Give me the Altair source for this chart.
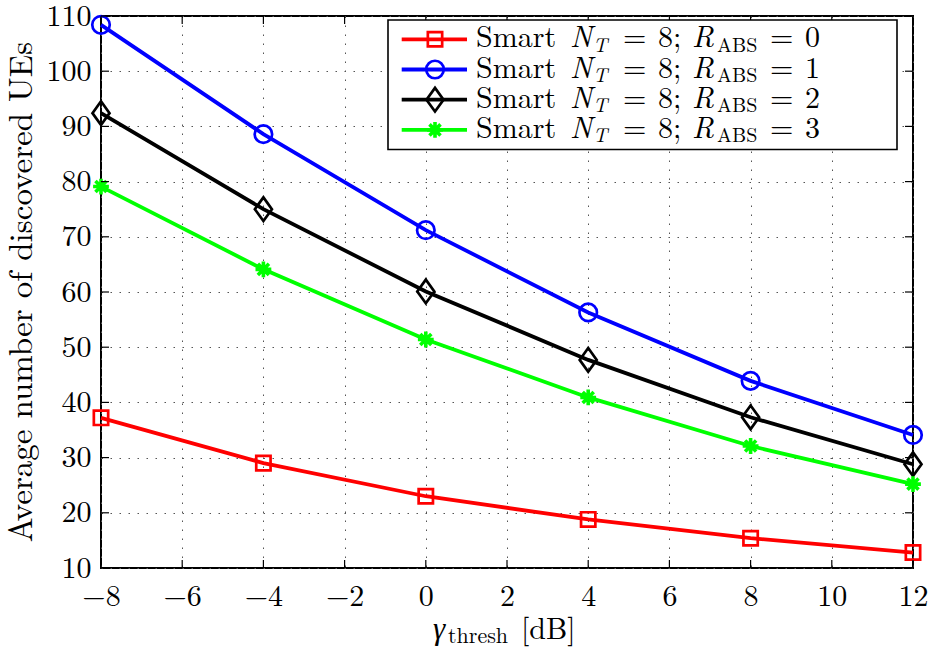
import altair as alt
import pandas as pd

# ---------------- data ----------------
x_vals = [-8, -4, 0, 4, 8, 12]
r_abs = [0, 1, 2, 3]
y_r0 = [37.2, 29.0, 23.0, 18.8, 15.4, 12.8]
y_r1 = [108.4, 88.6, 71.2, 56.3, 43.9, 34.1]
y_r2 = [92.4, 75.0, 60.1, 47.7, 37.3, 28.8]
y_r3 = [79.1, 64.1, 51.4, 40.9, 32.1, 25.2]
series_values = [y_r0, y_r1, y_r2, y_r3]
colors = ["#ff0000", "#0000ff", "#000000", "#00ff00"]
x_ticks = [-8, -6, -4, -2, 0, 2, 4, 6, 8, 10, 12]
y_ticks = [10, 20, 30, 40, 50, 60, 70, 80, 90, 100, 110]

# ---------------- styles ----------------
FONT = "Latin Modern Roman"
W, H = 812, 552
DIAMOND = "M0,-1L0.72,0L0,1L-0.72,0Z"
ASTERISK = "M0,-1L0,1M-1,0L1,0M-0.7,-0.7L0.7,0.7M-0.7,0.7L0.7,-0.7"
marker_styles = [
    dict(shape="square", size=205, strokeWidth=2.7),
    dict(shape="circle", size=306, strokeWidth=2.7),
    dict(shape=DIAMOND, size=560, strokeWidth=2.7),
    dict(shape=ASTERISK, size=250, strokeWidth=3.6),
]

xscale = alt.Scale(domain=[-8, 12], nice=False, zero=False)
yscale = alt.Scale(domain=[10, 110], nice=False, zero=False)

x_label_expr = ("datum.value < 0 ? '\u2212' + format(-datum.value, 'd') + '\u2002\u2008' "
                ": format(datum.value, 'd')")

layers = []

# series (first layer carries the axes)
for i, (vals, col, ms) in enumerate(zip(series_values, colors, marker_styles)):
    df = pd.DataFrame({"x": x_vals, "y": vals})
    if i == 0:
        xenc = alt.X("x:Q", scale=xscale, axis=alt.Axis(
            values=x_ticks, labelExpr=x_label_expr, title=None, labelFlush=False))
        yenc = alt.Y("y:Q", scale=yscale, axis=alt.Axis(
            values=y_ticks, title=None, labelFlush=False))
    else:
        xenc = alt.X("x:Q", scale=xscale)
        yenc = alt.Y("y:Q", scale=yscale)
    layers.append(alt.Chart(df).mark_line(color=col, strokeWidth=3.8).encode(x=xenc, y=yenc))
    layers.append(alt.Chart(df).mark_point(
        color=col, filled=False, opacity=1, **ms).encode(
        x=alt.X("x:Q", scale=xscale), y=alt.Y("y:Q", scale=yscale)))

# inward ticks on all four sides
xt = pd.DataFrame({"t": x_ticks})
yt = pd.DataFrame({"t": y_ticks})
tick_kw = dict(color="black", strokeWidth=1.2)
layers.append(alt.Chart(xt).mark_rule(**tick_kw).encode(
    x=alt.X("t:Q", scale=xscale), y=alt.value(H), y2=alt.value(H - 8)))
layers.append(alt.Chart(xt).mark_rule(**tick_kw).encode(
    x=alt.X("t:Q", scale=xscale), y=alt.value(0), y2=alt.value(8)))
layers.append(alt.Chart(yt).mark_rule(**tick_kw).encode(
    y=alt.Y("t:Q", scale=yscale), x=alt.value(0), x2=alt.value(8)))
layers.append(alt.Chart(yt).mark_rule(**tick_kw).encode(
    y=alt.Y("t:Q", scale=yscale), x=alt.value(W), x2=alt.value(W - 8)))

# ---------------- legend (manual, to allow subscripts) ----------------
one = pd.DataFrame({"k": [0]})
layers.append(alt.Chart(one).mark_rect(fill="white", stroke="black", strokeWidth=1.6).encode(
    x=alt.value(287), x2=alt.value(796), y=alt.value(4), y2=alt.value(133.5)))

def txt(text, x, y, size, italic=False, align="left", angle=None, font=FONT):
    kw = dict(text=text, font=font, fontSize=size, align=align,
              baseline="alphabetic", color="black")
    if italic:
        kw["fontStyle"] = "italic"
    if angle is not None:
        kw["angle"] = angle
    return alt.Chart(one).mark_text(**kw).encode(x=alt.value(x), y=alt.value(y))

for i, (r, col, ms) in enumerate(zip(r_abs, colors, marker_styles)):
    cy = 23.3 + 30.2 * i
    layers.append(alt.Chart(one).mark_rule(color=col, strokeWidth=3.8).encode(
        x=alt.value(300.7), x2=alt.value(366), y=alt.value(cy)))
    layers.append(alt.Chart(one).mark_point(color=col, filled=False, opacity=1, **ms).encode(
        x=alt.value(334), y=alt.value(cy)))
    base = cy + 8
    sub = cy + 12.4
    layers.append(txt("Smart", 375, base, 30))
    layers.append(txt("N", 469, base, 30, italic=True))
    layers.append(txt("T", 492, sub, 20, italic=True))
    layers.append(txt("=", 522, base, 30))
    layers.append(txt("8;", 557, base, 30))
    layers.append(txt("R", 591, base, 30, italic=True))
    layers.append(txt("ABS", 616, sub, 20))
    layers.append(txt("=", 669, base, 30))
    layers.append(txt(str(r), 704, base, 30))

# ---------------- axis titles ----------------
layers.append(txt("Average number of discovered UEs", -69, H / 2, 33, align="center", angle=270))
layers.append(txt("\u03b3", 332, 623, 31, italic=True, font="Liberation Serif"))
layers.append(txt("thresh", 347, 627, 22))
layers.append(txt("[dB]", 420, 623, 30))

chart = alt.layer(*layers).properties(
    width=W, height=H,
    autosize=alt.AutoSizeParams(type="none"),
    padding={"left": 101, "top": 16, "right": 19, "bottom": 80},
    background="white",
).configure_view(
    stroke="black", strokeWidth=2
).configure_axis(
    grid=True, gridDash=[1.5, 7.5], gridColor="#555555", gridWidth=1, gridOpacity=1,
    domain=False, ticks=False, tickSize=0,
    labelFont=FONT, labelFontSize=30, labelColor="black", labelPadding=10,
).configure_axisX(labelPadding=13)

chart.save("out.html", embed_options={"renderer": "svg", "actions": False})
